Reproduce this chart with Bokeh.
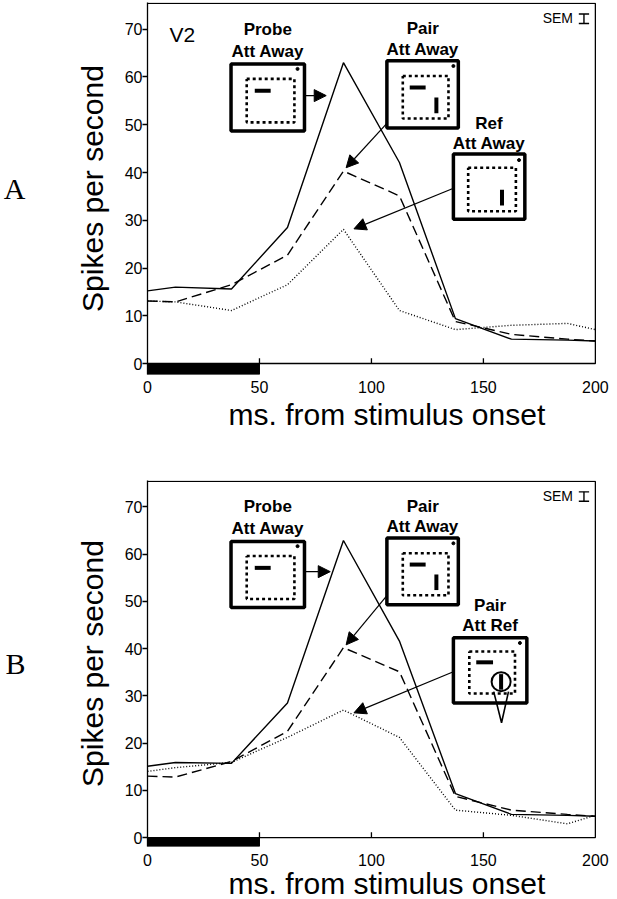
from bokeh.plotting import figure
from bokeh.layouts import column
from bokeh.models import (Range1d, Arrow, NormalHead, Label, FixedTicker, ColumnDataSource,
                          LinearAxis, Title)
from bokeh.core.properties import value
from bokeh.embed import file_html
from bokeh.resources import INLINE

# ---------------- data ----------------
time_ms = [0, 12.5, 37.5, 62.5, 87.5, 112.5, 137.5, 162.5, 187.5, 200]

# Panel A (V2)
probe_away_a = [15.2, 16.0, 15.6, 28.5, 63.0, 42.1, 9.4, 5.1, 4.9, 4.7]
pair_away_a = [13.1, 12.9, 16.5, 22.7, 40.3, 35.1, 8.8, 6.1, 5.1, 4.7]
ref_away_a = [13.1, 12.9, 11.1, 16.5, 28.1, 11.1, 7.1, 8.0, 8.4, 7.1]

# Panel B
probe_away_b = [15.1, 15.9, 15.7, 28.5, 62.9, 41.6, 9.3, 4.9, 4.7, 4.5]
pair_away_b = [13.0, 12.8, 16.1, 22.5, 40.2, 35.1, 8.7, 5.8, 4.9, 4.5]
pair_attref_b = [14.0, 14.8, 15.9, 21.2, 27.0, 21.2, 5.8, 4.7, 2.9, 4.7]

x_ticks = [0, 50, 100, 150, 200]
x_inner_ticks = [50, 100, 150]
y_ticks = [0, 10, 20, 30, 40, 50, 60, 70]
stim_on = [0]
stim_off = [50]
sem = 2.0

FONT = "Liberation Sans"
Y1 = 75.6
TOP = 75.4


def draw_box(p, x0, x1, y0, y1, ix0, ix1, iy0, iy1, dot):
    p.quad(left=[x0], right=[x1], bottom=[y0], top=[y1], fill_color="white",
           line_color="black", line_width=3.5)
    p.line([ix0, ix1, ix1, ix0, ix0], [iy1, iy1, iy0, iy0, iy1], line_color="black",
           line_width=2.6, line_dash="3 3")
    p.scatter([dot[0]], [dot[1]], size=3, color="black")


def make_panel(third, probe, pair, height, top_border, bottom_border, y0, panel_letter,
               third_box, third_title, arrows, tick_standoff, title_standoff):
    p = figure(width=617, height=height, x_range=Range1d(0, 200.5), y_range=Range1d(y0, Y1),
               output_backend="svg", toolbar_location=None,
               min_border_left=145, min_border_right=21,
               min_border_top=top_border, min_border_bottom=bottom_border)
    p.outline_line_color = None
    p.grid.visible = False
    p.background_fill_color = "white"
    p.border_fill_color = "white"

    # x axis (tick labels only; its title is placed below, slightly right of centre)
    xa = p.xaxis[0]
    xa.ticker = FixedTicker(ticks=x_ticks)
    xa.major_tick_line_color = None
    xa.minor_tick_line_color = None
    xa.axis_line_color = None
    xa.major_tick_out = 0
    xa.major_tick_in = 0
    xa.major_label_standoff = tick_standoff
    xa.major_label_text_font = FONT
    xa.major_label_text_font_size = "16px"
    xa.major_label_text_color = "black"
    p.add_layout(Title(text="ms. from stimulus onset", align="left", offset=81,
                       text_font=FONT, text_font_size="30px", text_font_style="normal",
                       text_color="black", standoff=title_standoff), "below")

    # y axis
    ya = p.yaxis[0]
    ya.ticker = FixedTicker(ticks=y_ticks)
    ya.major_tick_out = 5
    ya.major_tick_in = 0
    ya.minor_tick_line_color = None
    ya.axis_line_width = 1.3
    ya.major_tick_line_width = 1.3
    ya.major_label_standoff = 0
    ya.major_label_text_font = FONT
    ya.major_label_text_font_size = "16px"
    ya.major_label_text_color = "black"
    ya.axis_label = "Spikes per second"
    ya.axis_label_text_font = FONT
    ya.axis_label_text_font_size = "30px"
    ya.axis_label_text_font_style = "normal"
    ya.axis_label_text_color = "black"
    ya.axis_label_standoff = 13

    # panel letter as an outer, tick-less axis
    la = LinearAxis(ticker=FixedTicker(ticks=[]), axis_line_color=None,
                    major_tick_line_color=None, minor_tick_line_color=None,
                    axis_label=panel_letter, axis_label_orientation="horizontal",
                    axis_label_text_font="Liberation Serif", axis_label_text_font_size="30px",
                    axis_label_text_font_style="normal", axis_label_text_color="black",
                    axis_label_standoff=47)
    p.add_layout(la, "left")

    # frame lines (bottom at y=0, right, top)
    p.line([0, 200, 200, 0], [0, 0, TOP, TOP], line_color="black", line_width=1.3)
    p.segment(x0=x_inner_ticks, y0=[0] * 3, x1=x_inner_ticks, y1=[1.1] * 3,
              line_color="black", line_width=1.3)
    # stimulus bar
    p.quad(left=stim_on, right=stim_off, bottom=[y0], top=[0], color="black")

    src = ColumnDataSource(dict(t=time_ms, probe=probe, pair=pair, third=third))
    p.line("t", "probe", source=src, line_color="black", line_width=1.4)
    p.line("t", "pair", source=src, line_color="black", line_width=1.4, line_dash="10 5")
    p.line("t", "third", source=src, line_color="black", line_width=1.4, line_dash="1 2")

    # probe inset
    draw_box(p, 37.3, 70.1, 48.7, 62.7, 44.3, 65.6, 50.5, 59.6, (67.0, 61.7))
    p.segment(x0=[47.9], y0=[57.1], x1=[55.0], y1=[57.1], line_color="black", line_width=4)
    # pair inset
    draw_box(p, 106.9, 138.8, 49.3, 63.4, 114.0, 134.4, 51.3, 60.2, (136.6, 62.3))
    p.segment(x0=[117.1], y0=[57.8], x1=[124.2], y1=[57.8], line_color="black", line_width=4)
    p.segment(x0=[129.0], y0=[52.4], x1=[129.0], y1=[55.7], line_color="black", line_width=4)

    tb = third_box
    draw_box(p, *tb["outer"], *tb["inner"], tb["dot"])
    if tb.get("hbar"):
        hx0, hx1, hy = tb["hbar"]
        p.segment(x0=[hx0], y0=[hy], x1=[hx1], y1=[hy], line_color="black", line_width=4)
    if tb.get("eye"):
        ex, ey, bx0, bx1, by, ax, ay = tb["eye"]
        p.line([bx0, ax, bx1], [by, ay, by], line_color="black", line_width=1.6)
        p.scatter([ex], [ey], size=19, marker="circle", fill_color="white",
                  line_color="black", line_width=2)
    vx, vy0, vy1 = tb["vbar"]
    p.segment(x0=[vx], y0=[vy0], x1=[vx], y1=[vy1], line_color="black", line_width=4)

    titles = dict(x=[53.7, 53.7, 122.9, 122.9, tb["tx"], tb["tx"]],
                  y=[70.0, 65.4, 70.2, 65.8, tb["ty"][0], tb["ty"][1]],
                  s=["Probe", "Att Away", "Pair", "Att Away", third_title[0], third_title[1]])
    p.text(x="x", y="y", text="s", source=ColumnDataSource(titles), text_font=value(FONT),
           text_font_style="bold", text_font_size="17px", text_align="center",
           text_baseline="middle", text_color="black")

    for (xs, ys, xe, ye) in arrows:
        p.add_layout(Arrow(end=NormalHead(size=12, fill_color="black", line_color="black"),
                           x_start=xs, y_start=ys, x_end=xe, y_end=ye,
                           line_color="black", line_width=1.2))

    # SEM marker
    p.text(x=[190.0], y=[72.3], text=["SEM"], text_font=value(FONT), text_font_size="14px",
           text_align="right", text_baseline="middle", text_color="black")
    sx = 194.9
    cw = 2.3
    p.segment(x0=[sx, sx - cw, sx - cw], y0=[72.2 - sem / 2, 72.2 - sem / 2, 72.2 + sem / 2],
              x1=[sx, sx + cw, sx + cw], y1=[72.2 + sem / 2, 72.2 - sem / 2, 72.2 + sem / 2],
              line_color="black", line_width=1.4)
    return p


box_a = dict(outer=(136.6, 168.5, 30.2, 43.9), inner=(143.2, 164.5, 31.9, 41.0),
             dot=(165.9, 42.6), vbar=(158.3, 33.1, 36.4), tx=152.5, ty=(50.3, 46.0))
arrows_a = [(70.1, 56.1, 79.8, 56.1), (107.3, 50.5, 88.7, 41.0), (136.1, 36.6, 92.2, 28.2)]

box_b = dict(outer=(136.6, 169.4, 28.5, 42.3), inner=(143.7, 164.1, 30.5, 39.4),
             dot=(166.3, 41.2), hbar=(146.8, 154.3, 37.1), vbar=(157.9, 31.3, 34.6),
             eye=(157.9, 33.0, 154.6, 161.2, 30.9, 158.1, 24.3), tx=153.0, ty=(49.1, 44.9))
arrows_b = [(70.5, 56.3, 81.6, 56.3), (106.9, 51.2, 88.7, 40.8), (136.6, 35.1, 92.2, 26.4)]

# panel A: top 2, frame 372, bottom 57
pa = make_panel(ref_away_a, probe_away_a, pair_away_a, 431, 2, 57, -2.3, "A", box_a,
                ("Ref", "Att Away"), arrows_a, 6, 0)
pa.add_layout(Label(x=9.8, y=68.9, text="V2", text_font=FONT, text_font_size="21px",
                    text_baseline="middle", text_color="black"))

# panel B: top 49, frame 366, bottom 52
pb = make_panel(pair_attref_b, probe_away_b, pair_away_b, 467, 49, 52, -1.9, "B", box_b,
                ("Pair", "Att Ref"), arrows_b, 7, -8)

layout = column(pa, pb, spacing=0)
open("out.html", "w").write(file_html(layout, INLINE))
